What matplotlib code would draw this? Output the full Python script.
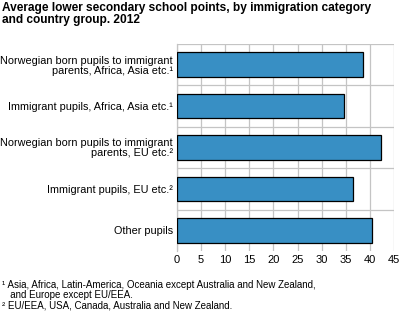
import matplotlib
matplotlib.use("Agg")
import matplotlib.pyplot as plt

categories = [
    "Norwegian born pupils to immigrant\nparents, Africa, Asia etc.\u00b9",
    "Immigrant pupils, Africa, Asia etc.\u00b9",
    "Norwegian born pupils to immigrant\nparents, EU etc.\u00b2",
    "Immigrant pupils, EU etc.\u00b2",
    "Other pupils",
]
values = [38.6, 34.6, 42.3, 36.5, 40.4]
xticks = [0, 5, 10, 15, 20, 25, 30, 35, 40, 45]

plt.rcParams['font.family'] = ['Liberation Sans', 'DejaVu Sans']

fig = plt.figure(figsize=(4.01, 3.23), dpi=100)
W, H = 401, 323
ax = fig.add_axes([177/W, 1 - 251/H, (394-177)/W, (251-44)/H])

y = list(range(len(categories)))
ax.barh(y, values, height=0.59, color='#388fc4', edgecolor='black', linewidth=0.9, zorder=3)
ax.set_ylim(len(categories) - 0.5, -0.5)
ax.set_xlim(0, 45)
ax.set_xticks(xticks)
ax.set_xticklabels([str(t) for t in xticks], fontsize=8)
ax.set_yticks(y)
ax.set_yticklabels(categories, fontsize=7.8, linespacing=1.0)
ax.set_yticks([i + 0.5 for i in range(-1, len(categories) - 1)], minor=True)
ax.grid(True, axis='x', which='major', color='#c4c4c4', linewidth=0.9, zorder=0)
ax.grid(True, axis='y', which='minor', color='#c4c4c4', linewidth=0.9, zorder=0)
ax.tick_params(axis='both', which='both', length=0)
ax.tick_params(axis='y', pad=3)
ax.tick_params(axis='x', pad=3)
for s in ['top', 'right', 'bottom']:
    ax.spines[s].set_visible(False)
ax.spines['left'].set_color('#c4c4c4')
ax.spines['left'].set_linewidth(0.9)

fig.text(2/W, 1 - 2/H, "Average lower secondary school points, by immigration category\nand country group. 2012",
         fontsize=8.6, fontweight='bold', va='top', ha='left', linespacing=1.05)

fig.text(2/W, 1 - 280/H,
         "\u00b9 Asia, Africa, Latin-America, Oceania except Australia and New Zealand,\n   and Europe except EU/EEA.\n\u00b2 EU/EEA, USA, Canada, Australia and New Zealand.",
         fontsize=7.0, va='top', ha='left', linespacing=1.05)

fig.savefig("out.png", dpi=100)
